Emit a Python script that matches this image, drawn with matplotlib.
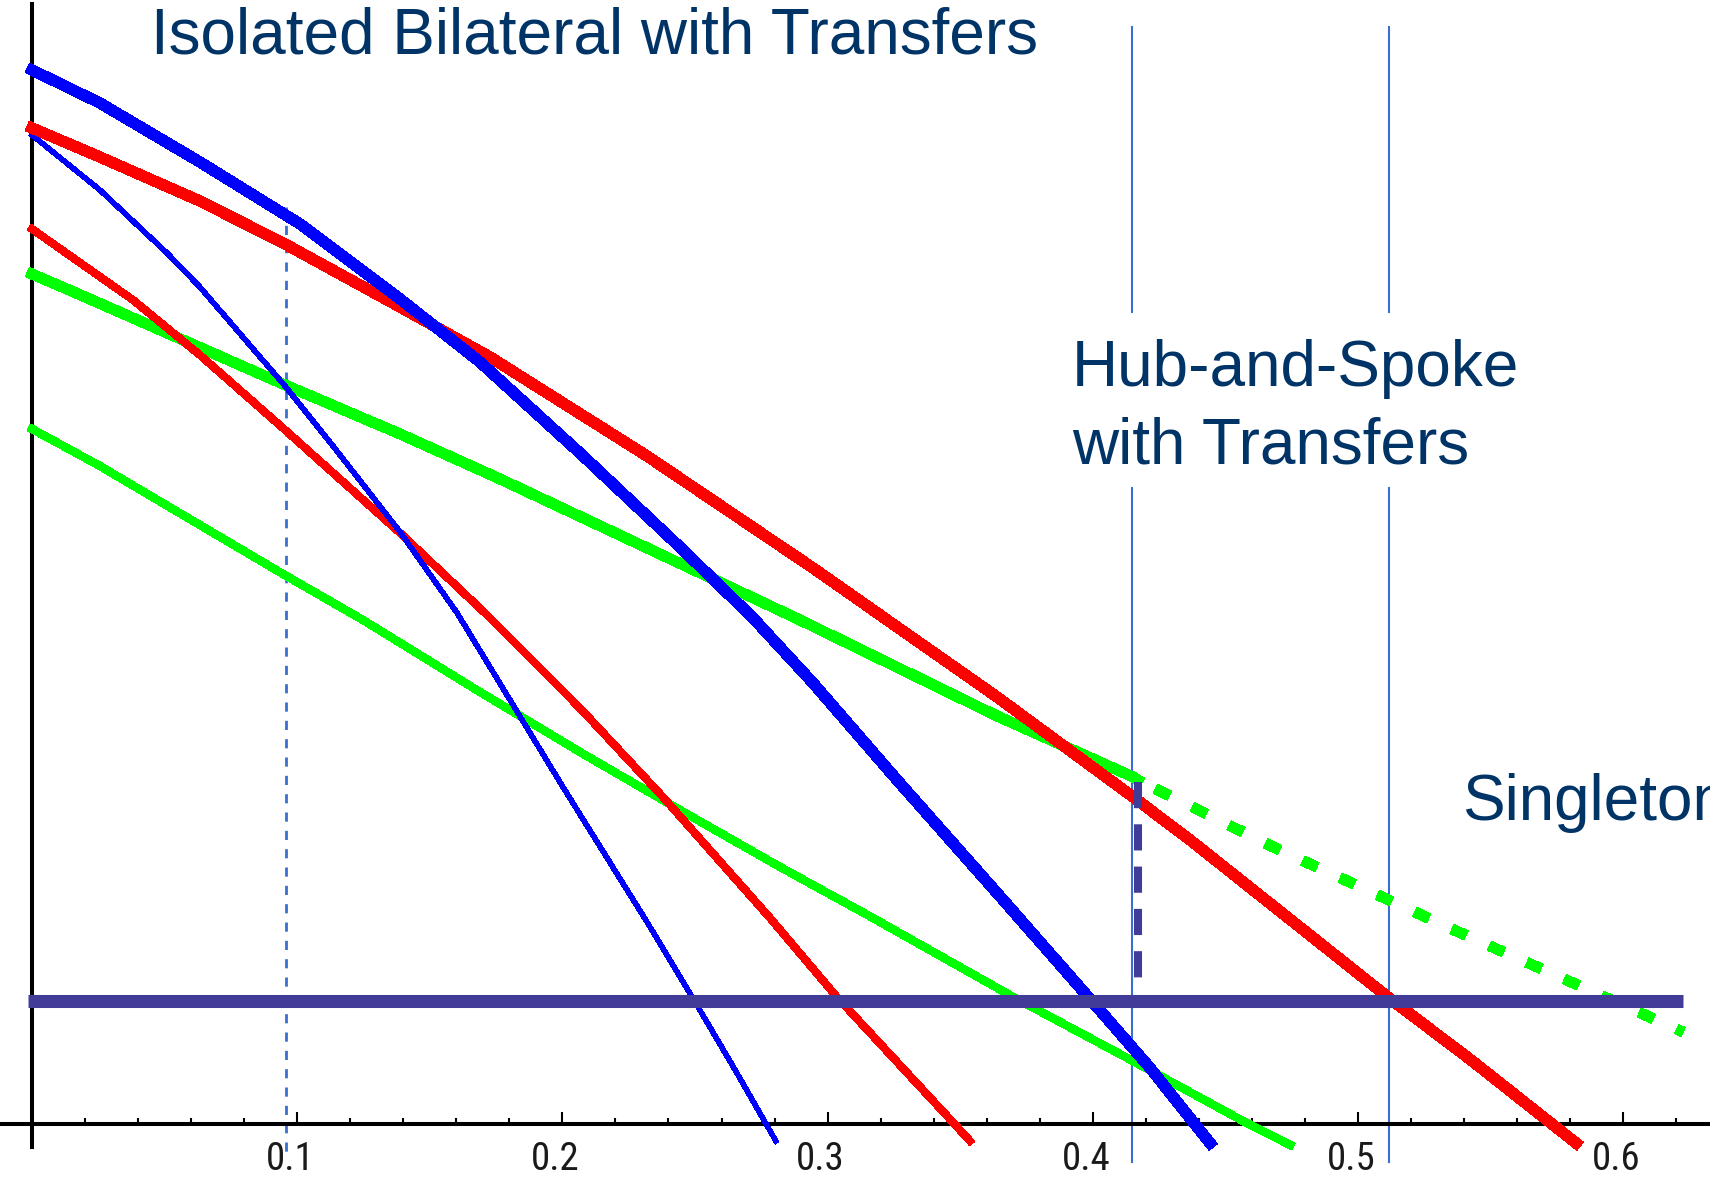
import matplotlib.pyplot as plt
from matplotlib.ticker import FixedLocator, MultipleLocator
from matplotlib.transforms import ScaledTranslation

# values; the y axis carries no scale, so y units are arbitrary
blue_thick_x = [0, 0.0256, 0.0633, 0.1011, 0.1388, 0.1689, 0.2066, 0.2443, 0.2719,
                0.2945, 0.3262, 0.3639, 0.3993, 0.4216, 0.4442]
blue_thick_y = [1.054, 1.021, 0.962, 0.900, 0.825, 0.762, 0.671, 0.577, 0.506,
                0.441, 0.344, 0.231, 0.124, 0.056, -0.019]

red_thick_x = [0, 0.0256, 0.0633, 0.0954, 0.1388, 0.1727, 0.2319, 0.2945, 0.3639,
               0.4152, 0.4367, 0.5117, 0.5426, 0.5822]
red_thick_y = [0.996, 0.967, 0.923, 0.880, 0.817, 0.767, 0.668, 0.556, 0.427,
               0.327, 0.284, 0.126, 0.064, -0.019]

green_hi_x = [0, 0.0192, 0.0509, 0.0946, 0.1388, 0.1765, 0.2191, 0.2568, 0.2896,
              0.3198, 0.3639, 0.4152, 0.417]
green_hi_y = [0.850, 0.828, 0.791, 0.740, 0.690, 0.645, 0.592, 0.545, 0.504,
              0.465, 0.408, 0.347, 0.344]
# continuation past the hub-and-spoke threshold (dotted)
green_ext_x = [0.417, 0.468, 0.5362, 0.6226]
green_ext_y = [0.344, 0.277, 0.194, 0.092]

red_thin_x = [0, 0.0381, 0.0633, 0.0946, 0.1388, 0.1708, 0.2066, 0.2379, 0.2783,
              0.3035, 0.3220, 0.3454, 0.3537]
red_thin_y = [0.895, 0.824, 0.769, 0.696, 0.591, 0.511, 0.416, 0.327, 0.206,
              0.127, 0.074, 0.007, -0.017]

blue_thin_x = [0, 0.0256, 0.0509, 0.0633, 0.0954, 0.1135, 0.1388, 0.1603, 0.2002,
               0.2319, 0.2496, 0.2647, 0.2805]
blue_thin_y = [0.989, 0.934, 0.871, 0.837, 0.738, 0.678, 0.592, 0.511, 0.337,
               0.202, 0.124, 0.056, -0.017]

green_lo_x = [0, 0.0256, 0.0633, 0.0946, 0.1248, 0.1689, 0.2066, 0.2443, 0.2821,
              0.3171, 0.3707, 0.4144, 0.4566, 0.4744]
green_lo_y = [0.695, 0.658, 0.599, 0.550, 0.504, 0.432, 0.372, 0.314, 0.257,
              0.206, 0.126, 0.064, 0.003, -0.021]

singleton_level = 0.123
singleton_x = [-0.0015, 0.6226]

hs_jump_x = 0.417
hs_jump_y = [0.342, 0.146]

bilateral_x = 0.0958
bilateral_y = [0.917, -0.036]

thresholds = [0.4148, 0.5117]
threshold_y = [-0.038, 1.097]
label_gap = [0.636, 0.812]   # where the hub-and-spoke label breaks the lines

x_ticks = [0.1, 0.2, 0.3, 0.4, 0.5, 0.6]
x_ticklabels = ['0.1', '0.2', '0.3', '0.4', '0.5', '0.6']

BLUE = '#0000ff'
RED = '#ff0000'
GREEN = '#00ff00'
SLATE = '#403c98'
GUIDE = '#3a6fd0'
NAVY = '#003366'

fig = plt.figure(figsize=(17.1, 11.82), dpi=100)
ax = fig.add_axes([0, 0, 1, 1])
ax.set_xlim(-32 / 2652, (1710 - 32) / 2652)
ax.set_ylim(-0.058, 1.124)

# guide lines
for x in thresholds:
    ax.plot([x, x], [threshold_y[0], label_gap[0]], color=GUIDE, lw=1.5, zorder=1)
    ax.plot([x, x], [label_gap[1], threshold_y[1]], color=GUIDE, lw=1.5, zorder=1)
ax.plot([bilateral_x, bilateral_x], bilateral_y, color=GUIDE, lw=2.0,
        linestyle=(0, (3.3, 3.3)), zorder=1)

# curves
kw = dict(solid_capstyle='projecting', antialiased=False, zorder=3)
ax.plot(green_lo_x, green_lo_y, color=GREEN, lw=5.3, **kw)
ax.plot(green_hi_x, green_hi_y, color=GREEN, lw=7.2, **kw)
ax.plot(green_ext_x, green_ext_y, color=GREEN, lw=7.2, antialiased=False, zorder=3,
        dash_capstyle='butt', linestyle=(2.13, (1.5, 2.5)))
ax.plot(red_thin_x, red_thin_y, color=RED, lw=5.0, **kw)
ax.plot(blue_thin_x, blue_thin_y, color=BLUE, lw=3.2, **kw)
ax.plot(red_thick_x, red_thick_y, color=RED, lw=7.5, **kw)
ax.plot(blue_thick_x, blue_thick_y, color=BLUE, lw=7.5, **kw)

ax.plot(singleton_x, [singleton_level, singleton_level], color=SLATE, lw=9.4,
        solid_capstyle='butt', zorder=4)
ax.plot([hs_jump_x, hs_jump_x], hs_jump_y, color=SLATE, lw=5.8,
        dash_capstyle='butt', linestyle=(0, (3.25, 2.0)), zorder=4)

# axes through the origin
for side in ['top', 'right']:
    ax.spines[side].set_visible(False)
ax.spines['left'].set_position(('data', 0))
ax.spines['bottom'].set_position(('data', 0))
ax.spines['left'].set_bounds(-0.023, 1.12)
ax.spines['left'].set_linewidth(2.9)
ax.spines['bottom'].set_linewidth(2.9)
ax.set_yticks([])
ax.xaxis.set_major_locator(FixedLocator(x_ticks))
ax.set_xticklabels(x_ticklabels, family=['Roboto Condensed', 'DejaVu Sans'],
                   fontstretch='condensed', fontsize=28, color='#1a1a1a')
ax.xaxis.set_minor_locator(MultipleLocator(0.02))
ax.tick_params(axis='x', which='major', direction='in', length=8.6, width=1.5, pad=12)
ax.tick_params(axis='x', which='minor', direction='in', length=4.3, width=1.5)
shift = ScaledTranslation(-7 / 100, 0, fig.dpi_scale_trans)
for lab in ax.get_xticklabels():
    lab.set_transform(lab.get_transform() + shift)

# labels
tfont = dict(family='Liberation Sans', fontsize=46, color=NAVY, va='baseline', ha='left')
ax.text(0.0449, 1.071, 'Isolated Bilateral with Transfers', **tfont)
ax.text(0.3922, 0.738, 'Hub-and-Spoke', **tfont)
ax.text(0.3922, 0.661, 'with Transfers', **tfont)
ax.text(0.5392, 0.304, 'Singleton', clip_on=False, **tfont)

fig.savefig('out.png', dpi=100)
